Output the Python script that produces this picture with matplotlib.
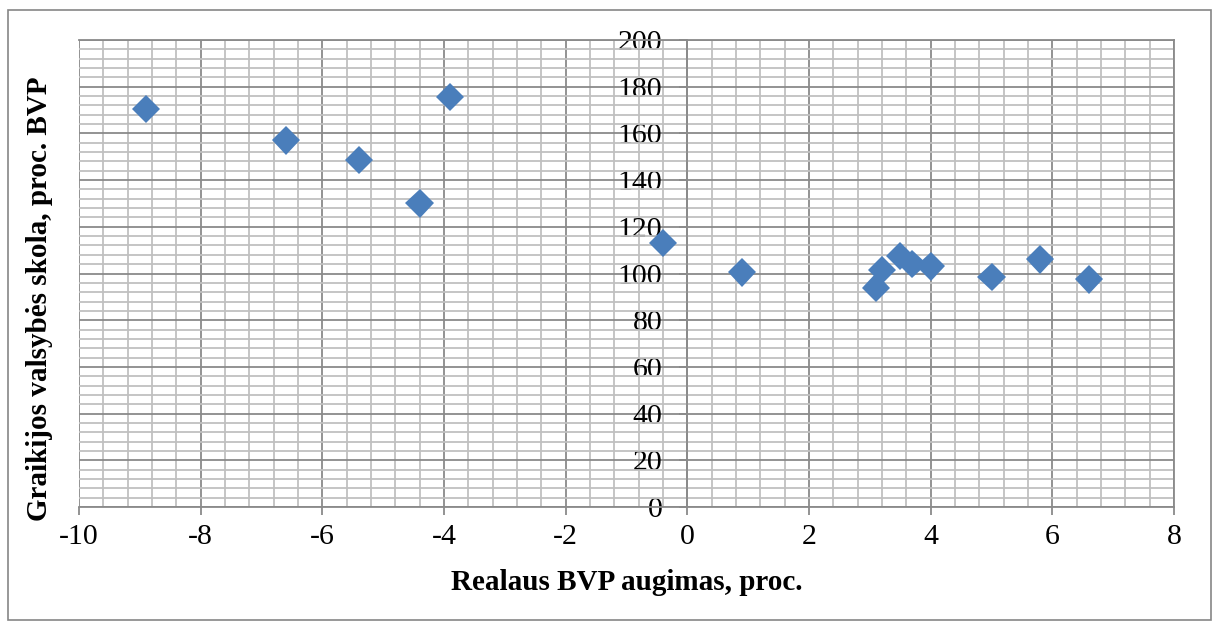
import matplotlib
matplotlib.use("Agg")
import matplotlib.pyplot as plt
import matplotlib.patheffects as pe
from matplotlib.patches import Rectangle
from matplotlib.ticker import MultipleLocator

plt.rcParams['font.family'] = ['Liberation Serif', 'DejaVu Serif']

growth = [-8.9, -6.6, -5.4, -4.4, -3.9, -0.4, 0.9, 3.1, 3.2, 3.5, 3.7, 4.0, 5.0, 5.8, 6.6]
debt = [170.5, 157, 148.5, 130, 175.5, 113, 100.5, 94, 101.5, 107.5, 104, 103, 98.5, 106, 97.5]

x_ticks = [-10, -8, -6, -4, -2, 0, 2, 4, 6, 8]
y_ticks = [0, 20, 40, 60, 80, 100, 120, 140, 160, 180, 200]
x_label = "Realaus BVP augimas, proc."
y_label = "Graikijos valsybės skola, proc. BVP"

W, H = 1214, 624
fig = plt.figure(figsize=(W / 100, H / 100), dpi=100)
fig.patches.append(Rectangle((8 / W, 4 / H), (1211 - 8) / W, (614 - 4) / H,
                             transform=fig.transFigure, fill=False,
                             edgecolor='#868686', linewidth=1.2))

ax = fig.add_axes([79 / W, (624 - 507) / H, (1174 - 79) / W, (507 - 40) / H])
ax.set_xlim(-10, 8)
ax.set_ylim(0, 200)
ax.xaxis.set_minor_locator(MultipleLocator(0.4))
ax.yaxis.set_minor_locator(MultipleLocator(4))
ax.set_xticks(x_ticks)
ax.set_yticks(y_ticks)
ax.set_xticklabels([str(v) for v in x_ticks])
ax.set_yticklabels([str(v) for v in y_ticks])

ax.grid(which='minor', color='#c0c0c0', linewidth=1.3)
ax.grid(which='major', color='#8a8a8a', linewidth=1.3)
ax.set_axisbelow(True)

for s in ['top', 'right', 'bottom']:
    ax.spines[s].set_color('#8a8a8a')
    ax.spines[s].set_linewidth(1.3)
ax.spines['left'].set_position(('data', 0))
ax.spines['left'].set_color('#8a8a8a')
ax.spines['left'].set_linewidth(1.3)

ax.tick_params(which='minor', length=0)
ax.tick_params(axis='x', which='major', direction='out', length=6, color='#8a8a8a',
               width=1.3, labelsize=21.5, pad=6)
ax.tick_params(axis='y', which='major', direction='out', length=6, color='#8a8a8a',
               width=1.3, labelsize=21.5, pad=12)

ax.plot(growth, debt, linestyle='none', marker='D', markersize=14.5,
        color='#4a7ebb', markeredgecolor='#4a7ebb', markeredgewidth=0.0,
        path_effects=[pe.SimpleLineShadow(offset=(1.2, -1.2), shadow_color='#606060', alpha=0.3),
                      pe.Normal()], zorder=5)

fig.text(627 / W, 1 - 583 / H, x_label, ha='center', va='center',
         fontsize=21, fontweight='bold')
fig.text(40 / W, 1 - 299 / H, y_label, ha='center', va='center',
         fontsize=21, fontweight='bold', rotation=90)

fig.savefig('out.png', dpi=100)
